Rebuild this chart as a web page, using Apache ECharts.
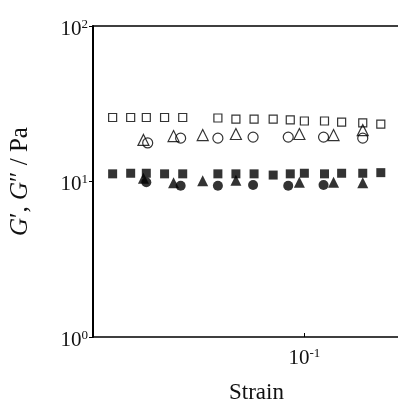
<!DOCTYPE html>
<html>
<head>
<meta charset="utf-8">
<script src="https://cdn.jsdelivr.net/npm/echarts@6/dist/echarts.min.js"></script>
<style>
  html, body { margin: 0; padding: 0; background: #fff; }
  #chart { width: 398px; height: 401px; }
</style>
</head>
<body>
<div id="chart"></div>
<script>
// strain values
const strainSq = [0.0059, 0.0077, 0.0097, 0.0127, 0.0166, 0.0279, 0.0364, 0.0476, 0.0631, 0.0812, 0.100, 0.1346, 0.1733, 0.2367, 0.309];
const strainTri = [0.0093, 0.0145, 0.0223, 0.0364, 0.0929, 0.1538, 0.2367];
const strainCirc = [0.0099, 0.0161, 0.0279, 0.0469, 0.0788, 0.1327, 0.2367];
const strainCircFill = [0.0097, 0.0161, 0.0279, 0.0469, 0.0788, 0.1327];

// G' (open) and G'' (filled), Pa
const sqOpen = [25.8, 25.8, 25.8, 25.8, 25.8, 25.6, 25.2, 25.2, 25.2, 24.9, 24.5, 24.5, 24.1, 23.8, 23.4];
const sqFill = [11.2, 11.3, 11.3, 11.2, 11.2, 11.2, 11.2, 11.2, 11.0, 11.2, 11.3, 11.2, 11.3, 11.3, 11.4];
const triOpen = [18.5, 19.6, 19.9, 20.2, 20.2, 19.9, 21.4];
const triFill = [10.5, 9.8, 10.1, 10.2, 9.9, 9.9, 9.8];
const circOpen = [17.7, 19.0, 19.0, 19.3, 19.3, 19.3, 19.0];
const circFill = [9.9, 9.4, 9.4, 9.5, 9.4, 9.5];

const yTicks = [1, 10, 100];
const xTicks = [0.1];

const serif = 'Liberation Serif';
const xMin = Math.pow(10, -2.355);
const xMax = Math.pow(10, -0.387);

function pairs(xs, ys) {
  return xs.map(function (x, i) { return [x, ys[i]]; });
}

function powLabel(v) {
  const e = Math.round(Math.log10(v));
  return '{b|10}{s|' + e + '}';
}

const labelRich = {
  b: { fontFamily: serif, fontSize: 21, color: '#111', lineHeight: 22 },
  s: { fontFamily: serif, fontSize: 13, color: '#111', verticalAlign: 'top', lineHeight: 10 }
};

function scatter(name, xs, ys, symbol, size, filled) {
  return {
    name: name,
    type: 'scatter',
    symbol: symbol,
    symbolSize: size,
    data: pairs(xs, ys),
    itemStyle: {
      color: filled ? '#000' : 'rgba(0,0,0,0)',
      borderColor: '#000',
      borderWidth: filled ? 0 : 1.2
    }
  };
}

const chart = echarts.init(document.getElementById('chart'));
chart.setOption({
  animation: false,
  backgroundColor: '#fff',
  grid: { left: 93, right: -2, top: 26, bottom: 64, outerBoundsMode: 'none' },
  xAxis: [
    {
      type: 'log',
      min: xMin,
      max: xMax,
      name: 'Strain',
      nameLocation: 'middle',
      nameGap: 44,
      nameTextStyle: { fontFamily: serif, fontSize: 23, color: '#111', padding: [0, 0, 0, 20] },
      axisLine: { lineStyle: { color: '#000', width: 1.5 } },
      axisTick: { inside: true, length: 4, customValues: xTicks, lineStyle: { color: '#000' } },
      axisLabel: { customValues: xTicks, formatter: powLabel, rich: labelRich, margin: 10 },
      splitLine: { show: false }
    },
    {
      type: 'log',
      position: 'top',
      min: xMin,
      max: xMax,
      axisLine: { lineStyle: { color: '#000', width: 1.5 } },
      axisTick: { show: false },
      axisLabel: { show: false },
      splitLine: { show: false }
    }
  ],
  yAxis: {
    type: 'log',
    min: 1,
    max: 100,
    name: '{i|G}′, {i|G}″ / Pa',
    nameLocation: 'middle',
    nameGap: 60,
    nameTextStyle: {
      fontFamily: serif, fontSize: 25, color: '#111',
      rich: { i: { fontFamily: serif, fontStyle: 'italic', fontSize: 25, color: '#111' } }
    },
    axisLine: { lineStyle: { color: '#000', width: 2 } },
    axisTick: { inside: false, length: 4, customValues: yTicks, lineStyle: { color: '#000' } },
    axisLabel: { customValues: yTicks, formatter: powLabel, rich: labelRich, margin: 5, padding: [6, 0, 0, 0] },
    splitLine: { show: false }
  },
  series: [
    scatter('sqOpen', strainSq, sqOpen, 'rect', 8, false),
    scatter('sqFill', strainSq, sqFill, 'rect', 9, true),
    scatter('triOpen', strainTri, triOpen, 'triangle', 11, false),
    scatter('triFill', strainTri, triFill, 'triangle', 11, true),
    scatter('circOpen', strainCirc, circOpen, 'circle', 10, false),
    scatter('circFill', strainCircFill, circFill, 'circle', 10, true)
  ]
});
</script>
</body>
</html>
